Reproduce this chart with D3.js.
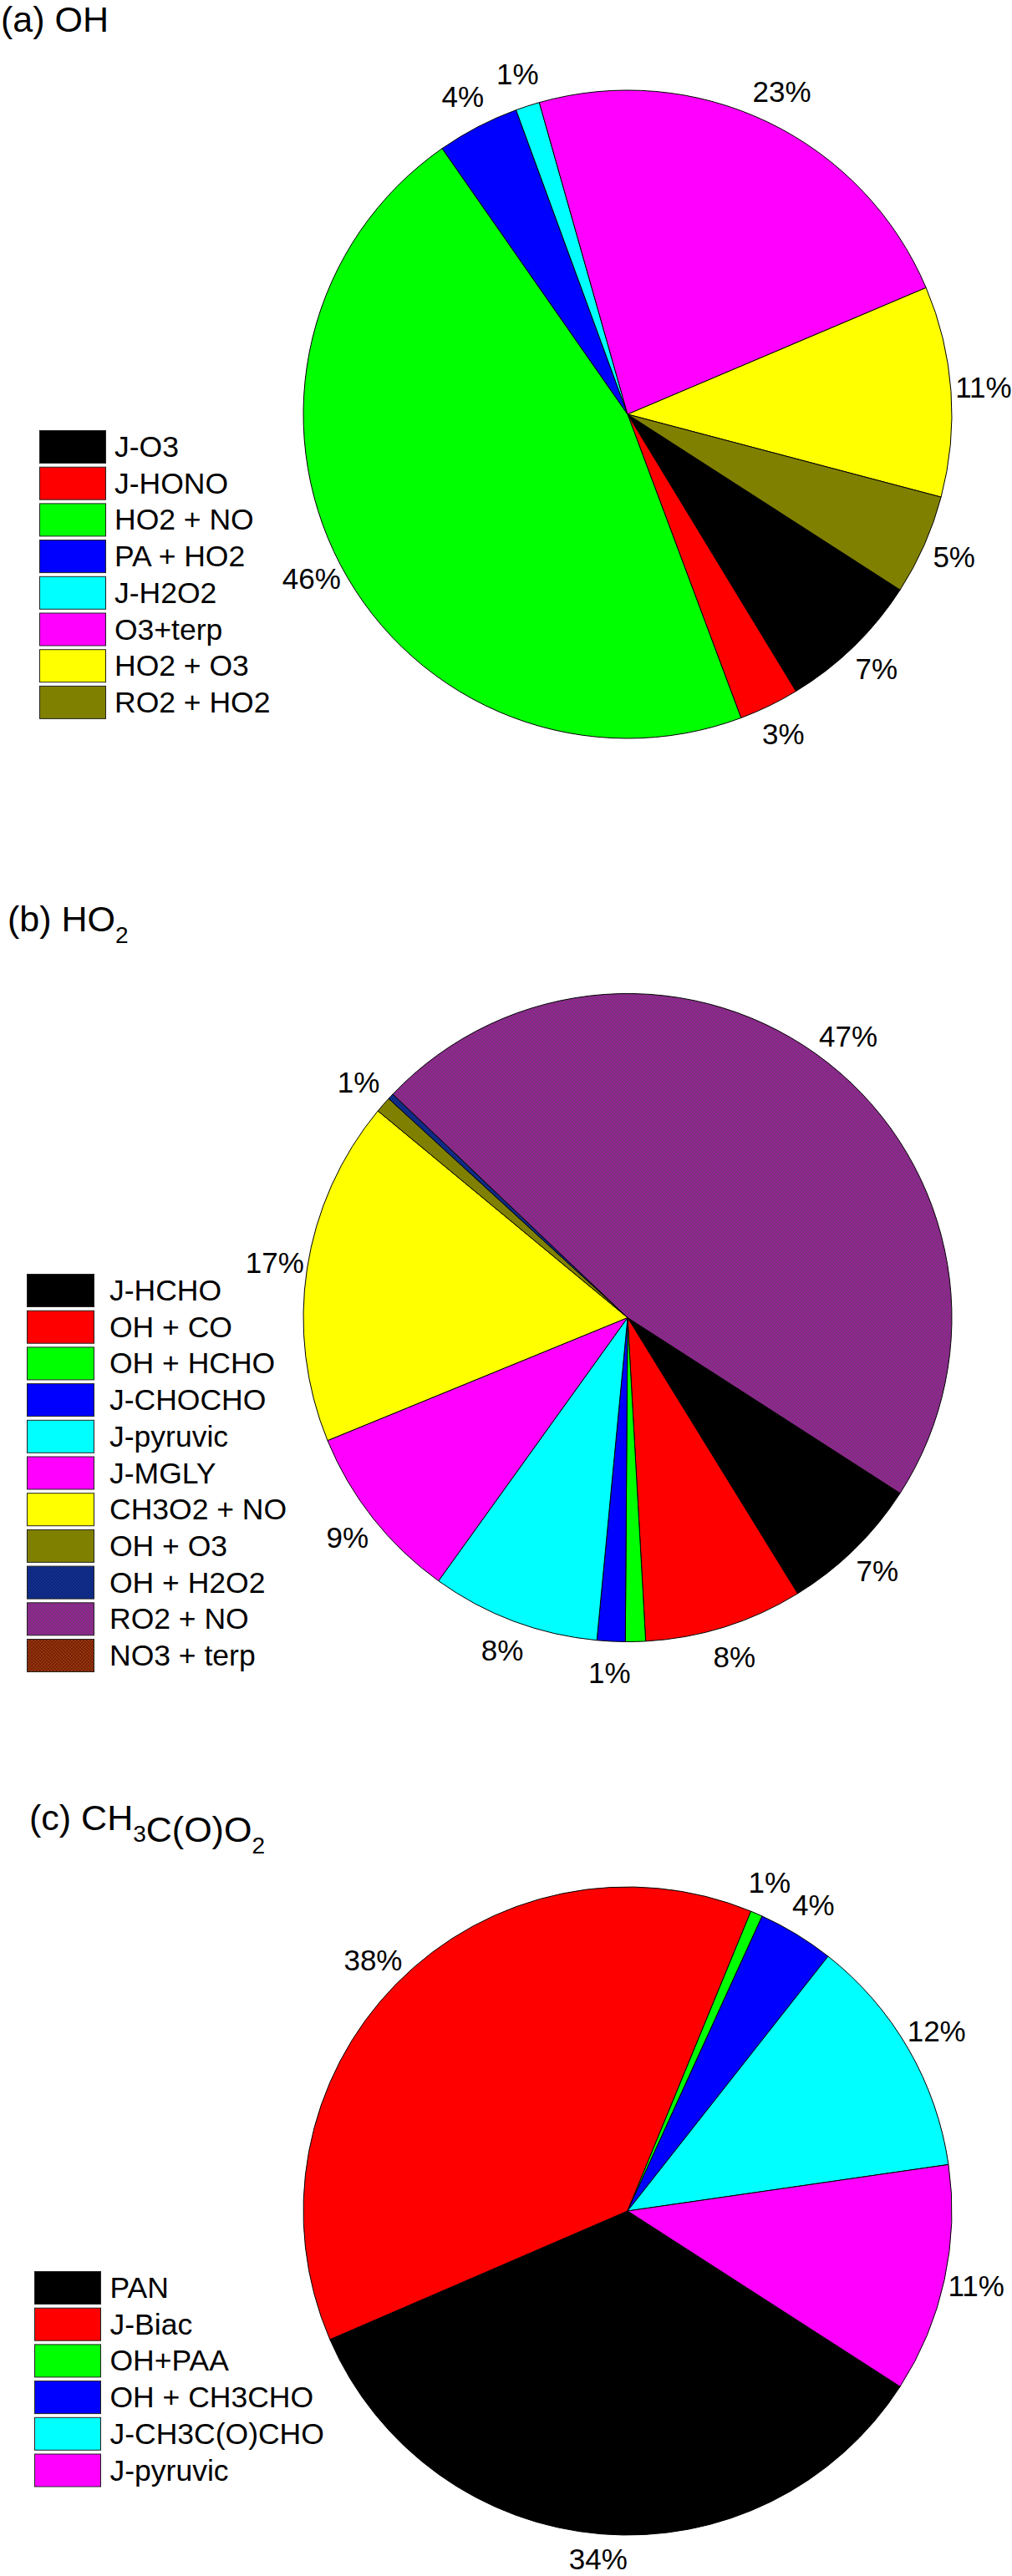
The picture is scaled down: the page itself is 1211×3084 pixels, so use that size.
<!DOCTYPE html>
<html>
<head>
<meta charset="utf-8">
<script src="https://cdn.jsdelivr.net/npm/d3@7/dist/d3.min.js"></script>
<style>
  body { margin: 0; background: #fff; }
  svg text { font-family: 'Liberation Sans', Arial, Helvetica, sans-serif; fill: #000; }
</style>
</head>
<body>
<svg id="chart" width="1211" height="3084"></svg>
<script>
// (a) OH production terms
let ohNames = ['J-O3', 'J-HONO', 'HO2 + NO', 'PA + HO2', 'J-H2O2', 'O3+terp', 'HO2 + O3', 'RO2 + HO2']
let ohValues = [7.2, 3.0, 46.0, 4.1, 1.2, 23.0, 10.5, 5.0]
let ohPct = ['7%', '3%', '46%', '4%', '1%', '23%', '11%', '5%']
let ohColors = ['#000000', '#ff0000', '#00ff00', '#0000ff', '#00ffff', '#ff00ff', '#ffff00', '#808000']

// (b) HO2 production terms
let ho2Names = ['J-HCHO', 'OH + CO', 'OH + HCHO', 'J-CHOCHO', 'J-pyruvic', 'J-MGLY', 'CH3O2 + NO', 'OH + O3', 'OH + H2O2', 'RO2 + NO', 'NO3 + terp']
let ho2Values = [7.1, 7.9, 1.0, 1.4, 8.4, 8.9, 17.2, 0.8, 0.3, 47.0, 0]
let ho2Pct = ['7%', '8%', '', '1%', '8%', '9%', '17%', '1%', '', '47%', '']
let ho2Colors = ['#000000', '#ff0000', '#00ff00', '#0000ff', '#00ffff', '#ff00ff', '#ffff00', '#808000', 'url(#texNavy)', 'url(#texPurple)', 'url(#texBrown)']

// (c) CH3C(O)O2 production terms
let acNames = ['PAN', 'J-Biac', 'OH+PAA', 'OH + CH3CHO', 'J-CH3C(O)CHO', 'J-pyruvic']
let acValues = [34.4, 37.7, 0.6, 3.8, 12.1, 11.4]
let acPct = ['34%', '38%', '1%', '4%', '12%', '11%']
let acColors = ['#000000', '#ff0000', '#00ff00', '#0000ff', '#00ffff', '#ff00ff']

let W = 1211
let H = 3084
let R = 388
let LABEL_R = 427
let START = 122.8 * Math.PI / 180
let ROW = 43.7

let svg = d3.select('#chart')
let defs = svg.append('defs')

// speckled fills used by some HO2 terms
function texture (id, base, dot) {
  let p = defs.append('pattern')
    .attr('id', id)
    .attr('patternUnits', 'userSpaceOnUse')
    .attr('width', 4)
    .attr('height', 4)
  p.append('rect').attr('width', 4).attr('height', 4).attr('fill', base)
  ;[[0, 0], [2, 1], [1, 2], [3, 3]].forEach(function (d) {
    p.append('rect').attr('x', d[0]).attr('y', d[1]).attr('width', 1).attr('height', 1).attr('fill', dot)
  })
}
texture('texNavy', '#062580', '#2a3c96')
texture('texPurple', '#9a1e9a', '#505050')
texture('texBrown', '#7c2000', '#a04a20')

let pie = d3.pie().sort(null).value(function (d) { return d.value })
  .startAngle(START).endAngle(START + 2 * Math.PI)
let arc = d3.arc().innerRadius(0).outerRadius(R)
let labelArc = d3.arc().innerRadius(LABEL_R).outerRadius(LABEL_R)

function drawPanel (cfg) {
  let rows = cfg.names.map(function (n, i) {
    return { name: n, value: cfg.values[i], pct: cfg.pct[i], color: cfg.colors[i] }
  })

  let g = svg.append('g').attr('transform', 'translate(' + cfg.cx + ',' + cfg.cy + ')')
  let slices = pie(rows)

  // empty terms get no wedge, only a legend entry
  g.selectAll('path')
    .data(slices.filter(function (d) { return d.value > 0 }))
    .enter().append('path')
    .attr('d', arc)
    .attr('fill', function (d) { return d.data.color })
    .attr('stroke', '#000')
    .attr('stroke-width', 1)
    .attr('stroke-linejoin', 'round')

  g.selectAll('text')
    .data(slices.filter(function (d) { return d.data.pct !== '' }))
    .enter().append('text')
    .attr('transform', function (d) {
      let c = labelArc.centroid(d)
      // keep labels inside the page
      c[1] = Math.min(c[1], H - cfg.cy - 19)
      return 'translate(' + c + ')'
    })
    .attr('text-anchor', 'middle')
    .attr('dy', '0.31em')
    .style('font-size', '35px')
    .text(function (d) { return d.data.pct })

  // legend
  let y = d3.scaleLinear().domain([0, 1]).range([cfg.legendY, cfg.legendY + ROW])
  let leg = svg.append('g').attr('class', 'legend')
  let item = leg.selectAll('g')
    .data(rows)
    .enter().append('g')
    .attr('transform', function (d, i) { return 'translate(0,' + y(i) + ')' })
  item.append('rect')
    .attr('x', cfg.legendX + 0.5)
    .attr('y', 0.5)
    .attr('width', cfg.swatchW)
    .attr('height', 39)
    .attr('fill', function (d) { return d.color })
    .attr('stroke', '#222')
    .attr('stroke-width', 1)
  item.append('text')
    .attr('x', cfg.textX)
    .attr('y', 32)
    .style('font-size', '35.5px')
    .text(function (d) { return d.name })
}

// titles with chemical subscripts
function title (x, y, parts) {
  let t = svg.append('text').attr('x', x).attr('y', y).style('font-size', '43px')
  parts.forEach(function (p) {
    if (p.sub) {
      t.append('tspan').attr('dy', 14).style('font-size', '28px').text(p.sub)
      t.append('tspan').attr('dy', -14).text('')
    } else {
      t.append('tspan').text(p.txt)
    }
  })
}

title(1, 38, [{ txt: '(a) OH' }])
title(9, 1115, [{ txt: '(b) HO' }, { sub: '2' }])
title(35, 2191, [{ txt: '(c) CH' }, { sub: '3' }, { txt: 'C(O)O' }, { sub: '2' }])

drawPanel({ names: ohNames, values: ohValues, pct: ohPct, colors: ohColors,
  cx: 751, cy: 496, legendX: 47, legendY: 515, swatchW: 79, textX: 137 })
drawPanel({ names: ho2Names, values: ho2Values, pct: ho2Pct, colors: ho2Colors,
  cx: 751, cy: 1577.5, legendX: 32, legendY: 1525, swatchW: 80, textX: 131 })
drawPanel({ names: acNames, values: acValues, pct: acPct, colors: acColors,
  cx: 751, cy: 2647, legendX: 41, legendY: 2719, swatchW: 79, textX: 131.5 })
</script>
</body>
</html>
